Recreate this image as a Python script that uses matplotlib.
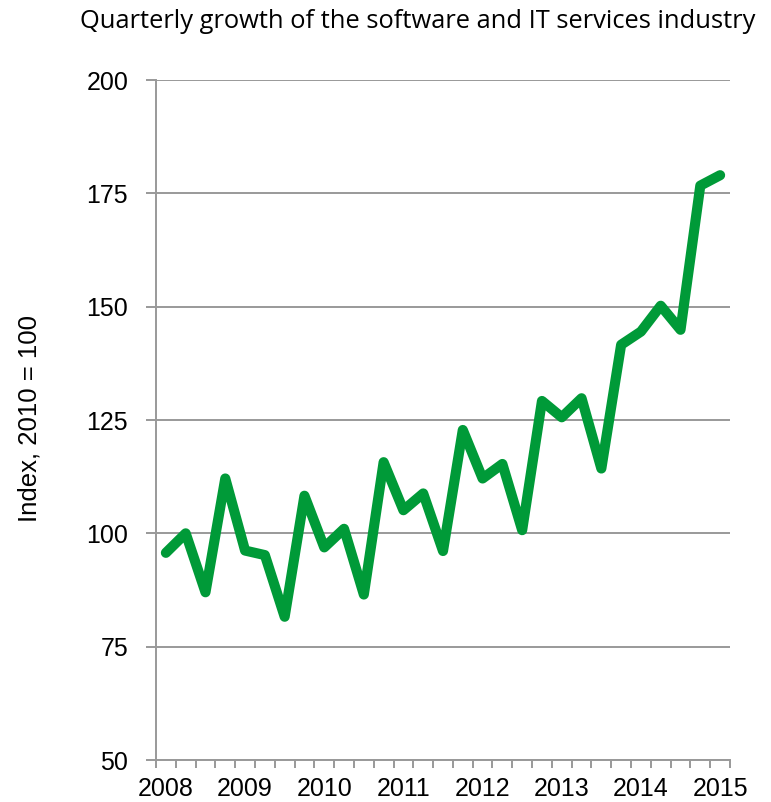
import matplotlib
matplotlib.use("Agg")
import matplotlib.pyplot as plt
from matplotlib.ticker import FixedLocator, NullFormatter

# ---- data ----
years = ["2008", "2009", "2010", "2011", "2012", "2013", "2014", "2015"]
index_values = [95.7, 100.0, 87.0, 112.1, 96.2, 95.2, 81.6, 108.3, 96.9, 101.0,
                86.5, 115.7, 105.1, 108.8, 96.1, 122.8, 112.1, 115.3, 100.7,
                129.2, 125.6, 129.8, 114.3, 141.6, 144.5, 150.2, 144.9, 176.7, 179.0]
y_ticks = [50, 75, 100, 125, 150, 175, 200]
title = "Quarterly growth of the software and IT services industry"
y_label = "Index, 2010 = 100"

W, H = 771, 802
fig = plt.figure(figsize=(W / 100, H / 100), dpi=100)
ax = fig.add_axes([156 / W, 42 / H, (730 - 156) / W, (760 - 80) / H])

n = len(index_values)
x = list(range(n))
ax.plot(x, index_values, color="#009A38", linewidth=7.3,
        solid_joinstyle="round", solid_capstyle="round", zorder=3, clip_on=False)

ax.set_xlim(-0.5, n - 0.5)
ax.set_ylim(50, 200)

grid_col = "#999999"
tick_font = dict(fontsize=18, family="Liberation Sans")
ax.set_yticks(y_ticks)
ax.set_yticklabels([str(v) for v in y_ticks], **tick_font)
ax.yaxis.grid(True, color=grid_col, linewidth=1.4)
ax.set_axisbelow(True)

ax.set_xticks(list(range(0, n, 4)))
ax.set_xticklabels(years, **tick_font)
ax.xaxis.set_minor_locator(FixedLocator([i - 0.5 for i in range(n + 1)]))
ax.xaxis.set_minor_formatter(NullFormatter())
ax.tick_params(axis="x", which="major", length=0, pad=12)
ax.tick_params(axis="x", which="minor", length=6, width=1.4, color=grid_col, direction="out")
ax.tick_params(axis="y", length=7, width=1.4, color=grid_col, pad=13)

for s in ["top", "right"]:
    ax.spines[s].set_visible(False)
for s in ["left", "bottom"]:
    ax.spines[s].set_color(grid_col)
    ax.spines[s].set_linewidth(1.4)

fig.text(30 / W, 1 - 418 / H, y_label, fontsize=18.5, family="Liberation Sans",
         rotation=90, ha="center", va="center")

fig.text(418 / W, 1 - 27.5 / H, title, fontsize=18.4, family="Open Sans",
         ha="center", va="baseline")

fig.savefig("out.png", dpi=100)
